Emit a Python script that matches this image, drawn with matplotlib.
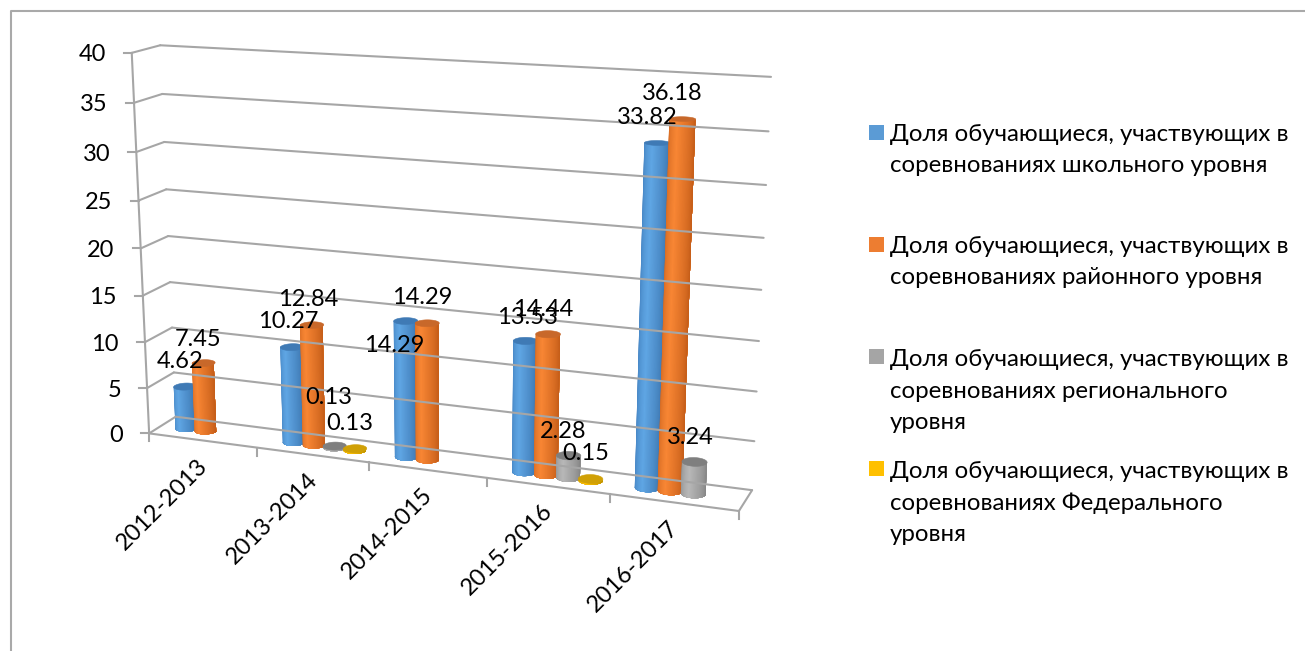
import numpy as np
import matplotlib
matplotlib.use("Agg")
import matplotlib.pyplot as plt
from matplotlib.collections import PolyCollection
from matplotlib.patches import Polygon, Rectangle

plt.rcParams['font.family'] = ['Lato', 'Open Sans', 'DejaVu Sans']

# ----- DATA -----
years = ["2012-2013", "2013-2014", "2014-2015", "2015-2016", "2016-2017"]
school = [4.62, 10.27, 14.29, 13.53, 33.82]
district = [7.45, 12.84, 14.29, 14.44, 36.18]
regional = [None, 0.13, None, 2.28, 3.24]
federal = [None, 0.13, None, 0.15, None]
value_ticks = [0, 5, 10, 15, 20, 25, 30, 35, 40]
legend_lines = [
    "Доля обучающиеся, участвующих в\nсоревнованиях школьного уровня",
    "Доля обучающиеся, участвующих в\nсоревнованиях районного уровня",
    "Доля обучающиеся, участвующих в\nсоревнованиях регионального\nуровня",
    "Доля обучающиеся, участвующих в\nсоревнованиях Федерального\nуровня",
]

# ----- STYLE -----
GRID = "#a6a6a6"
# left edge, middle, right edge, top cap
SHADES = [
    ("#3f7cbb", "#5fa6e4", "#3b73ad", "#3f7ab5"),
    ("#cc641f", "#f88634", "#c45c18", "#c8682a"),
    ("#8a8a8a", "#b8b8b8", "#858585", "#7f7f7f"),
    ("#c79a00", "#ffc000", "#b98f00", "#d0a006"),
]
LEGEND_COLORS = ["#5b9bd5", "#ed7d31", "#a5a5a5", "#ffc000"]
FONT = 17
LEGEND_FONT = 17.3
BAR_W = 0.19       # bar diameter along the category axis
BAR_D = 0.42       # bar diameter along the depth axis
BAR_STEP = 0.182   # distance between bars of one category
BAR_START = 0.232  # centre of the first bar of a category
# where the value labels sit, same order as the series above
label_xy = [
    [(180, 361), (288, 322), (394, 345), (527, 317), (647, 118)],
    [(198, 339), (308, 300), (422, 297), (543, 309), (672, 94)],
    [None, (329, 397), None, (563, 431), (690, 437)],
    [None, (350, 423), None, (586, 454), None],
]
legend_y = [150, 262, 391, 503]

# camera: box corners (category, value, depth) and where they land on the picture
calib_world = [(0, 0, 0), (0, 40, 0), (0, 0, 1), (0, 40, 1), (5, 0, 1), (5, 40, 1), (5, 0, 0),
               (1, 0, 0), (2, 0, 0), (3, 0, 0), (4, 0, 0)]
calib_px = [(149, 433), (132, 53), (176, 417), (160, 45), (752, 490), (771, 77), (739, 511),
            (257, 448), (368, 462), (487, 478), (610, 494)]


def fit_camera(world, px):
    rows = []
    for (x, y, z), (u, v) in zip(world, px):
        p = [x, y / 10, z, 1]
        rows.append(p + [0, 0, 0, 0] + [-u * c for c in p])
        rows.append([0, 0, 0, 0] + p + [-v * c for c in p])
    return np.linalg.svd(np.array(rows, dtype=float))[2][-1].reshape(3, 4)


CAM = fit_camera(calib_world, calib_px)


def project(x, y, z):
    x, y, z = np.broadcast_arrays(x, y, z)
    p = CAM @ np.vstack([x.ravel(), y.ravel() / 10, z.ravel(), np.ones(x.size)])
    return np.column_stack([p[0] / p[2], p[1] / p[2]])


def line3d(ax, a, b, **kw):
    pts = project(*np.array([a, b]).T)
    ax.plot(pts[:, 0], pts[:, 1], color=GRID, lw=1.5, solid_capstyle="round", **kw)


def cylinder(ax, cx, cz, value, shades):
    left, mid, right, cap = [np.array(matplotlib.colors.to_rgb(s)) for s in shades]
    angles = np.linspace(np.pi, 2 * np.pi, 33)
    px = cx + BAR_W / 2 * np.cos(angles)
    pz = cz + BAR_D / 2 * np.sin(angles)
    polys, colors = [], []
    for k in range(len(angles) - 1):
        # each strip runs on to the right edge and the next one paints over it, so no seams
        low = project(px[k:], np.zeros(len(px) - k), pz[k:])
        high = project(px[k:], np.full(len(px) - k, value), pz[k:])
        polys.append(np.vstack([low, high[::-1]]))
        t = (k + 0.5) / (len(angles) - 1)
        colors.append(left + (mid - left) * t / 0.45 if t < 0.45
                      else mid + (right - mid) * (t - 0.45) / 0.55)
    ax.add_collection(PolyCollection(polys, facecolors=colors, edgecolors="none"))
    ring = np.linspace(0, 2 * np.pi, 60)
    top = project(cx + BAR_W / 2 * np.cos(ring), np.full(60, value), cz + BAR_D / 2 * np.sin(ring))
    ax.add_patch(Polygon(top, closed=True, facecolor=cap, edgecolor=cap, lw=0.4))


fig = plt.figure(figsize=(13.05, 6.51), dpi=100)
ax = fig.add_axes([0, 0, 1, 1])
ax.set_xlim(0, 1305)
ax.set_ylim(651, 0)
ax.axis("off")

# chart frame
ax.plot([1304, 10.5, 10.5], [11, 11, 651], color="#a9a9a9", lw=1.5)

# walls, floor and ticks
n = len(years)
for v in value_ticks:
    line3d(ax, (0, v, 0), (0, v, 1))
    line3d(ax, (0, v, 1), (n, v, 1))
    fx, fy = project(0, v, 0)[0]
    ax.plot([fx - 8, fx], [fy, fy], color=GRID, lw=1.5)
    ax.text(fx - 26, fy + 2, str(v), ha="right", va="center", fontsize=FONT, color="black")
line3d(ax, (0, 0, 0), (0, 40, 0))
line3d(ax, (0, 0, 0), (n, 0, 0))
line3d(ax, (n, 0, 0), (n, 0, 1))
for i in range(n + 1):
    fx, fy = project(i, 0, 0)[0]
    ax.plot([fx, fx], [fy, fy + 8], color=GRID, lw=1.5)
for i, year in enumerate(years):
    fx, fy = project(i + 0.5, 0, 0)[0]
    ax.text(fx - 40, fy + 64, year, rotation=45, ha="center", va="center",
            fontsize=FONT, color="black", rotation_mode="anchor")

# bars
series = [school, district, regional, federal]
for i in range(n):
    for j, values in enumerate(series):
        if values[i] is None:
            continue
        cylinder(ax, i + BAR_START + j * BAR_STEP, 0.5, values[i], SHADES[j])

# value labels go on top of everything
for j, values in enumerate(series):
    for i, val in enumerate(values):
        if val is None:
            continue
        lx, ly = label_xy[j][i]
        ax.text(lx, ly, f"{val:.2f}", ha="center", va="center", fontsize=FONT, color="black", zorder=5)

# legend
for text, y, col in zip(legend_lines, legend_y, LEGEND_COLORS):
    lines = text.count("\n") + 1
    first = y - (lines - 1) * 16.5
    ax.add_patch(Rectangle((869, first - 9), 15, 15, facecolor=col, edgecolor="none"))
    ax.text(890, y, text, ha="left", va="center", fontsize=LEGEND_FONT, color="black", linespacing=1.6)

fig.savefig("out.png", dpi=100)
